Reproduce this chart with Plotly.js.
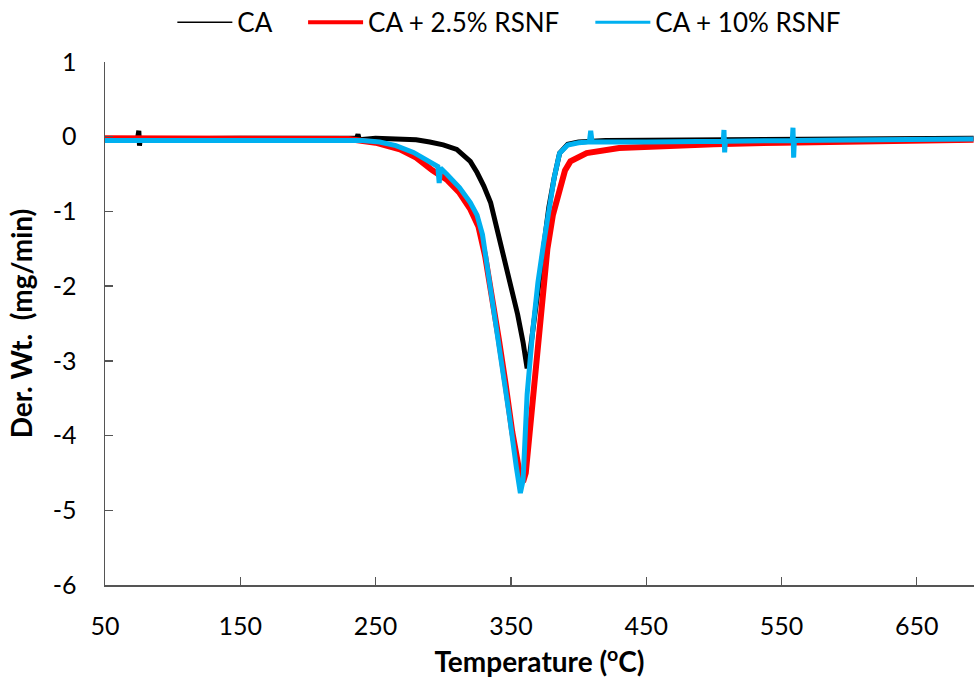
<!DOCTYPE html>
<html>
<head>
<meta charset="utf-8">
<script src="https://cdn.plot.ly/plotly-3.0.1.min.js"></script>
<style>html,body{margin:0;padding:0;background:#fff}#chart{width:974px;height:686px}</style>
</head>
<body>
<div id="chart"></div>
<script>
// Temperature (°C) and derivative weight (mg/min)
const caTemp = [50, 74, 75, 75.5, 76, 150, 236, 237, 238, 250, 280, 290, 300, 310, 315, 320, 325, 330, 335, 340, 345, 350, 355, 359, 362, 364, 366, 370, 374, 378, 382, 386, 392, 400, 420, 500, 600, 692];
const caDer  = [-0.03, -0.03, 0.08, -0.12, -0.03, -0.02, -0.02, 0.03, -0.04, -0.02, -0.04, -0.07, -0.11, -0.17, -0.24, -0.33, -0.48, -0.66, -0.88, -1.25, -1.6, -1.95, -2.38, -2.75, -3.1, -2.9, -2.62, -1.95, -1.45, -0.95, -0.55, -0.22, -0.1, -0.07, -0.05, -0.04, -0.03, -0.02];

const rs25Temp = [50, 100, 150, 200, 230, 250, 268, 280, 292, 303, 312, 320, 326, 331, 336, 341, 346, 351, 356, 359, 361, 364, 368, 371.5, 377, 381, 386, 390, 394, 406, 430, 450, 500, 550, 600, 692];
const rs25Der  = [-0.02, -0.02, -0.01, -0.02, -0.03, -0.08, -0.17, -0.28, -0.45, -0.58, -0.75, -0.97, -1.2, -1.6, -2.1, -2.7, -3.3, -3.95, -4.45, -4.62, -4.5, -3.96, -3.25, -2.62, -1.5, -1.05, -0.67, -0.45, -0.33, -0.22, -0.15, -0.13, -0.1, -0.08, -0.06, -0.04];

const rs10Temp = [50, 100, 150, 200, 240, 253, 265, 278, 290, 296, 297, 298, 303, 312, 320, 325, 329, 334, 339, 344, 349, 354, 357, 359, 362, 366, 370, 374, 378, 382, 386, 392, 400, 408, 409, 410, 450, 507, 507.5, 508, 508.5, 558, 558.5, 559, 559.5, 620, 692];
const rs10Der  = [-0.05, -0.05, -0.04, -0.04, -0.05, -0.07, -0.12, -0.21, -0.33, -0.4, -0.62, -0.42, -0.51, -0.68, -0.88, -1.05, -1.31, -1.9, -2.5, -3.08, -3.75, -4.42, -4.77, -4.6, -3.45, -2.62, -1.95, -1.45, -0.95, -0.55, -0.22, -0.11, -0.08, -0.07, 0.08, -0.07, -0.07, -0.06, 0.09, -0.21, -0.06, -0.05, 0.12, -0.28, -0.05, -0.04, -0.03];

const seriesNames = ['CA', 'CA + 2.5% RSNF', 'CA + 10% RSNF'];
const xTickVals = [50, 150, 250, 350, 450, 550, 650];
const yTickVals = [1, 0, -1, -2, -3, -4, -5, -6];

const FONT = 'Lato, "Open Sans", sans-serif';
const NB = '\u00A0';

const traces = [
  {x: caTemp, y: caDer, name: seriesNames[0], mode: 'lines', line: {color: '#000000', width: 5}, showlegend: false},
  {x: rs25Temp, y: rs25Der, name: seriesNames[1], mode: 'lines', line: {color: '#ff0000', width: 6}, showlegend: false},
  {x: rs10Temp, y: rs10Der, name: seriesNames[2], mode: 'lines', line: {color: '#00b0f0', width: 5}, showlegend: false},
  // legend entries (thin, as in the reference key)
  {x: [null], y: [null], name: seriesNames[0] + NB.repeat(4), mode: 'lines', line: {color: '#000000', width: 1.5}},
  {x: [null], y: [null], name: seriesNames[1] + NB.repeat(4), mode: 'lines', line: {color: '#ff0000', width: 4}},
  {x: [null], y: [null], name: seriesNames[2], mode: 'lines', line: {color: '#00b0f0', width: 3}}
];

const layout = {
  width: 974, height: 686,
  margin: {l: 105, r: 0, t: 62, b: 101, autoexpand: false},
  paper_bgcolor: '#ffffff', plot_bgcolor: '#ffffff',
  font: {family: FONT, color: '#000000', size: 24},
  showlegend: true,
  legend: {orientation: 'h', x: 0.0775, xanchor: 'left', y: 1.076, yanchor: 'middle',
           font: {family: FONT, size: 26, color: '#000'}, itemwidth: 55, traceorder: 'normal',
           bgcolor: 'rgba(0,0,0,0)'},
  xaxis: {
    range: [50, 692.3], tickvals: xTickVals, ticktext: xTickVals.map(String),
    ticks: 'inside', ticklen: 8, tickwidth: 1.3, tickcolor: '#555',
    showline: true, linecolor: '#555', linewidth: 1.5, showgrid: false, zeroline: false,
    tickfont: {family: FONT, size: 25, color: '#000'}, ticklabelstandoff: 18,
    title: {text: '<b>Temperature (<sup>o</sup>C)</b>', font: {family: FONT, size: 28, color: '#000'}, standoff: 14}
  },
  yaxis: {
    range: [-6, 1], tickvals: yTickVals, ticktext: yTickVals.map(String),
    ticks: 'inside', ticklen: 8, tickwidth: 1.3, tickcolor: '#555',
    showline: true, linecolor: '#555', linewidth: 1.5, showgrid: false, zeroline: false,
    tickfont: {family: FONT, size: 25, color: '#000'}, ticklabelstandoff: 22,
    title: {text: '<b>Der. Wt.  (mg/min)</b>', font: {family: FONT, size: 28, color: '#000'}, standoff: 12}
  }
};

Plotly.newPlot('chart', traces, layout, {displayModeBar: false, staticPlot: true});
</script>
</body>
</html>
